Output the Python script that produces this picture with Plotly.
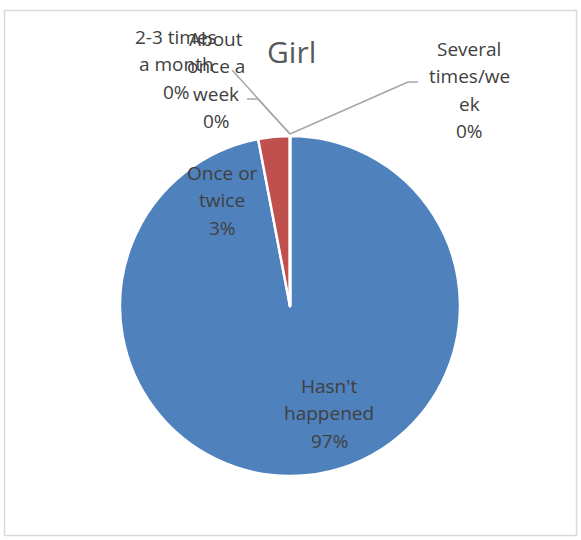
import plotly.graph_objects as go

# ---- data ----
categories = ["Hasn't happened", "Once or twice", "2-3 times a month",
              "About once a week", "Several times/week"]
values = [97, 3, 0, 0, 0]
wrapped = [["Hasn't", "happened"], ["Once or", "twice"], ["2-3 times", "a month"],
           ["About", "once a", "week"], ["Several", "times/we", "ek"]]
colors = ["#4F81BD", "#C0504D", "#9BBB59", "#8064A2", "#4BACC6"]
title_text = "Girl"

W, H = 581, 540
total = sum(values)
pcts = [f"{round(v / total * 100)}%" for v in values]

def px(x):
    return x / W

def py(y):
    return 1 - y / H

cx, cy, r = 290, 306, 170

fig = go.Figure(go.Pie(
    labels=categories,
    values=values,
    sort=False,
    direction="clockwise",
    rotation=0,
    marker=dict(colors=colors, line=dict(color="white", width=2.5)),
    textinfo="none",
    hoverinfo="label+percent",
    showlegend=False,
    domain=dict(x=[px(cx - r), px(cx + r)], y=[py(cy + r), py(cy - r)]),
))

# label centers (pixels)
label_pos = [(329, 413), (222, 200), (176, 64), (216, 80), (469, 90)]
spacing = 27.5
annotations = []
for (lx, ly), w, p in zip(label_pos, wrapped, pcts):
    lines = w + [p]
    n = len(lines)
    for i, t in enumerate(lines):
        yy = ly + (i - (n - 1) / 2) * spacing
        annotations.append(dict(
            x=px(lx), y=py(yy), xref="paper", yref="paper",
            text=t, showarrow=False, align="center",
            font=dict(family="Open Sans, sans-serif", size=19, color="#404040"),
            xanchor="center", yanchor="middle",
        ))
annotations.append(dict(
    x=px(291), y=py(51), xref="paper", yref="paper", text=title_text,
    showarrow=False, xanchor="center", yanchor="middle",
    font=dict(family="Open Sans, sans-serif", size=30, color="#595959"),
))

shapes = []
lead = "#A6A6A6"
def seg(x0, y0, x1, y1):
    shapes.append(dict(type="line", xref="paper", yref="paper",
                       x0=px(x0), y0=py(y0), x1=px(x1), y1=py(y1),
                       line=dict(color=lead, width=1.5)))

top = (290, 134)
seg(*top, 232, 70)
seg(*top, 258, 99)
seg(258, 99, 247, 99)
seg(*top, 408, 82)
seg(408, 82, 418, 82)

# chart border
shapes.append(dict(type="rect", xref="paper", yref="paper",
                   x0=px(4.5), x1=px(576.5), y0=py(535.5), y1=py(10.5),
                   line=dict(color="#D9D9D9", width=1.5)))

fig.update_layout(
    width=W, height=H,
    margin=dict(l=0, r=0, t=0, b=0),
    paper_bgcolor="white", plot_bgcolor="white",
    annotations=annotations, shapes=shapes,
)

fig.write_html("out.html",
               config={"displayModeBar": False},
               post_script="document.body.style.margin='0';document.body.style.overflow='hidden';")
